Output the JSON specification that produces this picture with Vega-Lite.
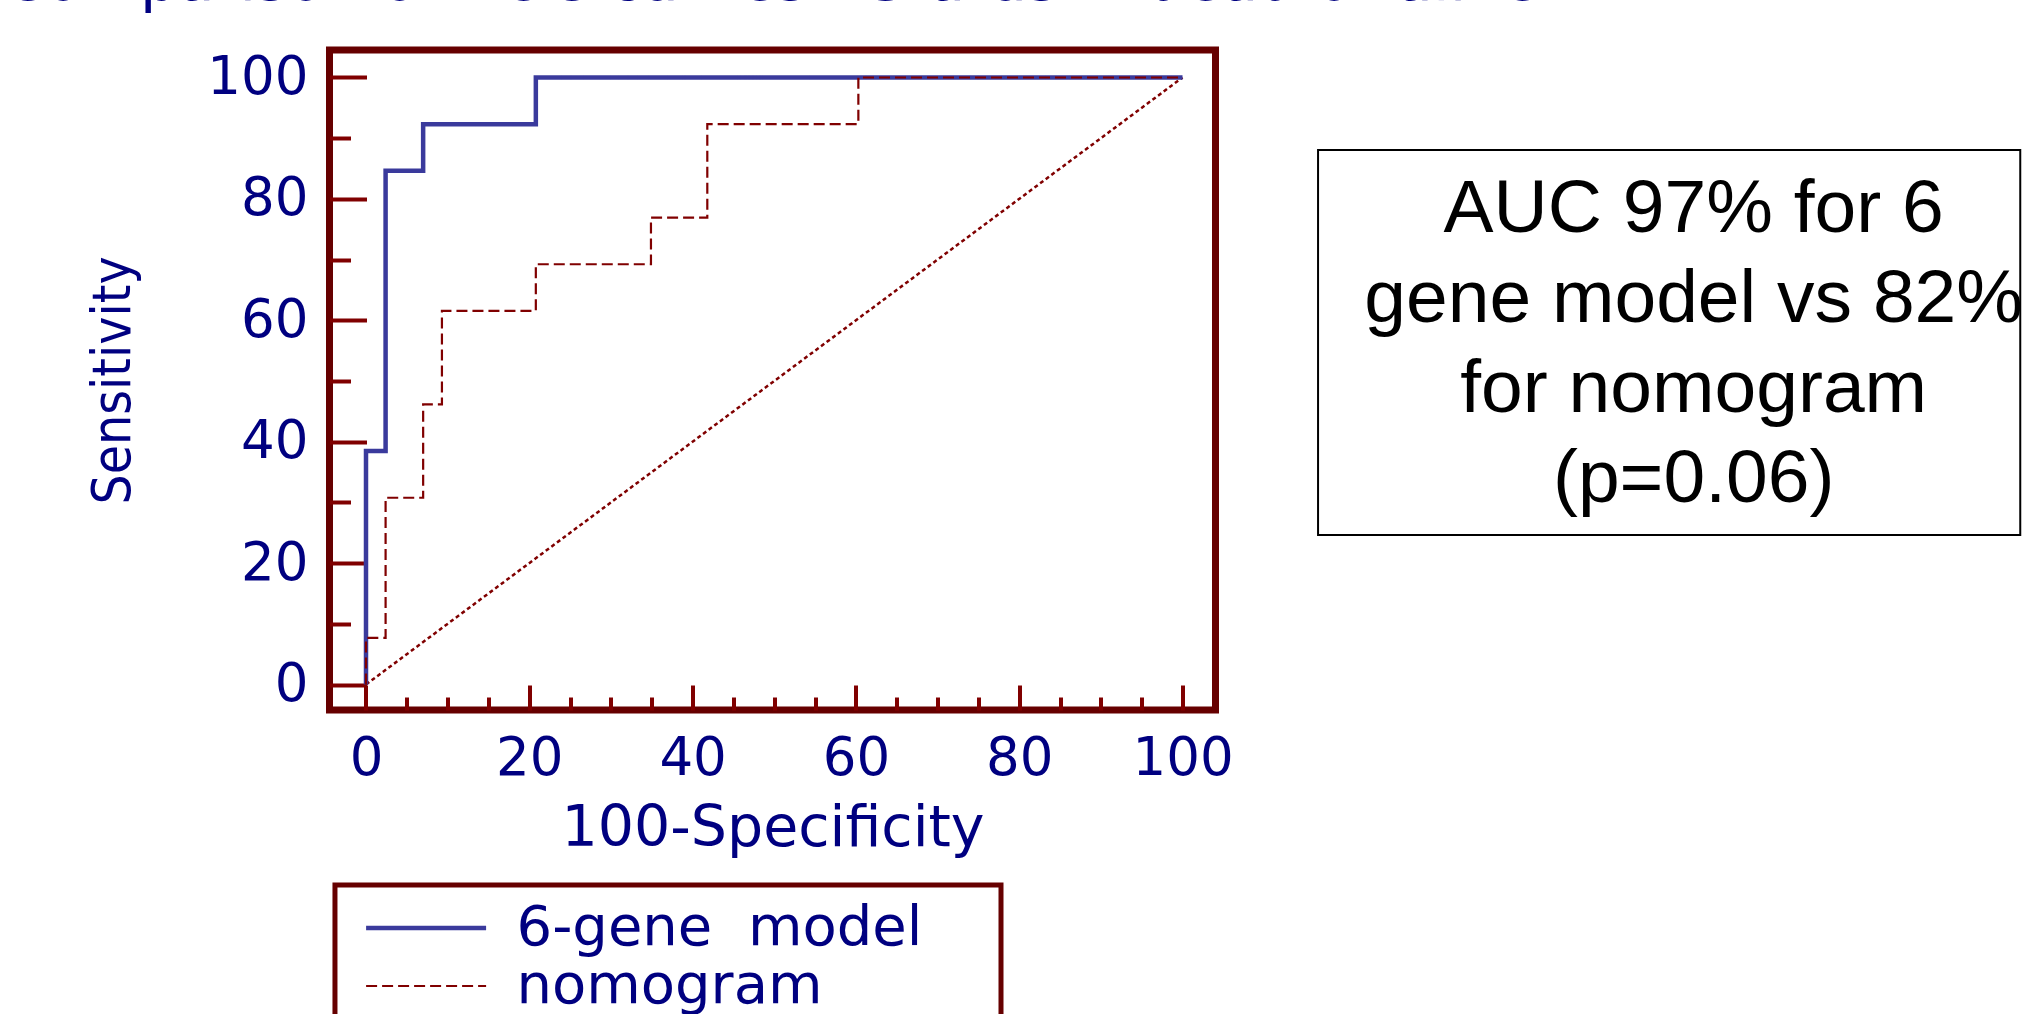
{
  "$schema": "https://vega.github.io/schema/vega-lite/v6.json",
  "width": 886,
  "height": 660,
  "autosize": {"type": "none"},
  "padding": {"left": 329.5, "top": 50, "right": 808.5, "bottom": 304},
  "background": "white",
  "config": {
    "view": {"stroke": "#660000", "strokeWidth": 7},
    "axis": {
      "grid": false,
      "domain": false,
      "tickColor": "#800000",
      "tickWidth": 4,
      "labelFont": "DejaVu Sans",
      "labelFontSize": 53,
      "labelColor": "#000080",
      "titleColor": "#000080",
      "titleFontWeight": "normal",
      "labelOverlap": false,
      "labelFlush": false,
      "labelBound": false
    }
  },
  "datasets": {
    "diagonal": [
      {"fpr": 0, "tpr": 0},
      {"fpr": 100, "tpr": 100}
    ],
    "roc": [
      {"series": "6-gene\u00a0 model", "i": 0, "fpr": 0, "tpr": 0},
      {"series": "6-gene\u00a0 model", "i": 1, "fpr": 0, "tpr": 38.46},
      {"series": "6-gene\u00a0 model", "i": 2, "fpr": 2.4, "tpr": 38.46},
      {"series": "6-gene\u00a0 model", "i": 3, "fpr": 2.4, "tpr": 84.62},
      {"series": "6-gene\u00a0 model", "i": 4, "fpr": 7.0, "tpr": 84.62},
      {"series": "6-gene\u00a0 model", "i": 5, "fpr": 7.0, "tpr": 92.31},
      {"series": "6-gene\u00a0 model", "i": 6, "fpr": 20.8, "tpr": 92.31},
      {"series": "6-gene\u00a0 model", "i": 7, "fpr": 20.8, "tpr": 100},
      {"series": "6-gene\u00a0 model", "i": 8, "fpr": 100, "tpr": 100},
      {"series": "nomogram", "i": 0, "fpr": 0, "tpr": 0},
      {"series": "nomogram", "i": 1, "fpr": 0, "tpr": 7.69},
      {"series": "nomogram", "i": 2, "fpr": 2.4, "tpr": 7.69},
      {"series": "nomogram", "i": 3, "fpr": 2.4, "tpr": 30.77},
      {"series": "nomogram", "i": 4, "fpr": 7.0, "tpr": 30.77},
      {"series": "nomogram", "i": 5, "fpr": 7.0, "tpr": 46.15},
      {"series": "nomogram", "i": 6, "fpr": 9.3, "tpr": 46.15},
      {"series": "nomogram", "i": 7, "fpr": 9.3, "tpr": 61.54},
      {"series": "nomogram", "i": 8, "fpr": 20.8, "tpr": 61.54},
      {"series": "nomogram", "i": 9, "fpr": 20.8, "tpr": 69.23},
      {"series": "nomogram", "i": 10, "fpr": 34.9, "tpr": 69.23},
      {"series": "nomogram", "i": 11, "fpr": 34.9, "tpr": 76.92},
      {"series": "nomogram", "i": 12, "fpr": 41.8, "tpr": 76.92},
      {"series": "nomogram", "i": 13, "fpr": 41.8, "tpr": 92.31},
      {"series": "nomogram", "i": 14, "fpr": 60.3, "tpr": 92.31},
      {"series": "nomogram", "i": 15, "fpr": 60.3, "tpr": 100},
      {"series": "nomogram", "i": 16, "fpr": 100, "tpr": 100}
    ]
  },
  "layer": [
    {
      "data": {"name": "diagonal"},
      "mark": {"type": "line", "stroke": "#800000", "strokeWidth": 2.5, "strokeDash": [4, 3]},
      "encoding": {
        "x": {
          "field": "fpr",
          "type": "quantitative",
          "scale": {"domain": [-4.47, 104.04], "nice": false, "zero": false},
          "axis": {
            "values": [0, 5, 10, 15, 20, 25, 30, 35, 40, 45, 50, 55, 60, 65, 70, 75, 80, 85, 90, 95, 100],
            "labelExpr": "datum.value % 20 === 0 ? datum.label : ''",
            "tickSize": {"condition": {"test": "datum.value % 20 === 0", "value": -25}, "value": -13},
            "labelPadding": 47,
            "title": "100-Specificity",
            "titleFont": "DejaVu Sans",
            "titleFontSize": 57,
            "titleBaseline": "alphabetic",
            "titleAlign": "center",
            "titleX": 443,
            "titleY": 135.5
          }
        },
        "y": {
          "field": "tpr",
          "type": "quantitative",
          "scale": {"domain": [-4.2, 104.53], "nice": false, "zero": false},
          "axis": {
            "values": [0, 5, 10, 15, 20, 25, 30, 35, 40, 45, 50, 55, 60, 65, 70, 75, 80, 85, 90, 95, 100],
            "labelExpr": "datum.value % 20 === 0 ? datum.label : ''",
            "tickSize": {"condition": {"test": "datum.value % 20 === 0", "value": -37}, "value": -21},
            "labelPadding": 58.5,
            "title": "Sensitivity",
            "titleFont": "DejaVu Sans Condensed",
            "titleFontSize": 53,
            "titleAngle": 270,
            "titleBaseline": "alphabetic",
            "titleAlign": "center",
            "titleX": -200.5,
            "titleY": 330
          }
        }
      }
    },
    {
      "data": {"name": "roc"},
      "mark": {"type": "line", "interpolate": "linear"},
      "encoding": {
        "x": {"field": "fpr", "type": "quantitative"},
        "y": {"field": "tpr", "type": "quantitative"},
        "order": {"field": "i", "type": "quantitative"},
        "stroke": {
          "field": "series",
          "type": "nominal",
          "scale": {"domain": ["6-gene\u00a0 model", "nomogram"], "range": ["#3a3a9c", "#800000"]},
          "legend": {
            "orient": "none",
            "legendX": 68.6,
            "legendY": 850,
            "title": null,
            "symbolType": "M-6,0H6",
            "symbolSize": 400,
            "labelFont": "DejaVu Sans",
            "labelFontSize": 56,
            "labelColor": "#000080",
            "labelOffset": 62.4,
            "labelLimit": 1000,
            "rowPadding": 2,
            "padding": 0
          }
        },
        "strokeDash": {
          "field": "series",
          "type": "nominal",
          "scale": {"domain": ["6-gene\u00a0 model", "nomogram"], "range": [[1, 0], [11, 5]]}
        },
        "strokeWidth": {
          "field": "series",
          "type": "nominal",
          "scale": {"domain": ["6-gene\u00a0 model", "nomogram"], "range": [4.5, 2.2]}
        }
      }
    },
    {
      "data": {"values": [{}]},
      "mark": {"type": "rect", "filled": false, "stroke": "#000000", "strokeWidth": 2},
      "encoding": {
        "x": {"datum": 116.6, "type": "quantitative"},
        "x2": {"datum": 202.6},
        "y": {"datum": 88.06, "type": "quantitative"},
        "y2": {"datum": 24.63}
      }
    },
    {
      "data": {"values": [{}]},
      "mark": {
        "type": "text",
        "text": ["AUC 97% for 6", "gene model vs 82%", "for nomogram", "(p=0.06)"],
        "font": "Liberation Sans",
        "fontSize": 75,
        "lineHeight": 90,
        "align": "center",
        "baseline": "alphabetic",
        "color": "#000000"
      },
      "encoding": {
        "x": {"datum": 162.6, "type": "quantitative"},
        "y": {"datum": 74.55, "type": "quantitative"}
      }
    },
    {
      "data": {"values": [{}]},
      "mark": {
        "type": "text",
        "text": "Comparison of ROC curves - Status = dead or alive",
        "font": "DejaVu Sans",
        "fontSize": 60,
        "align": "left",
        "baseline": "alphabetic",
        "color": "#000080"
      },
      "encoding": {
        "x": {"datum": -44.46, "type": "quantitative"},
        "y": {"datum": 112.8, "type": "quantitative"}
      }
    },
    {
      "data": {"values": [{}]},
      "mark": {"type": "rect", "filled": false, "stroke": "#660000", "strokeWidth": 5},
      "encoding": {
        "x": {"datum": -3.8, "type": "quantitative"},
        "x2": {"datum": 77.77},
        "y": {"datum": -33.03, "type": "quantitative"},
        "y2": {"datum": -58.6}
      }
    }
  ]
}
